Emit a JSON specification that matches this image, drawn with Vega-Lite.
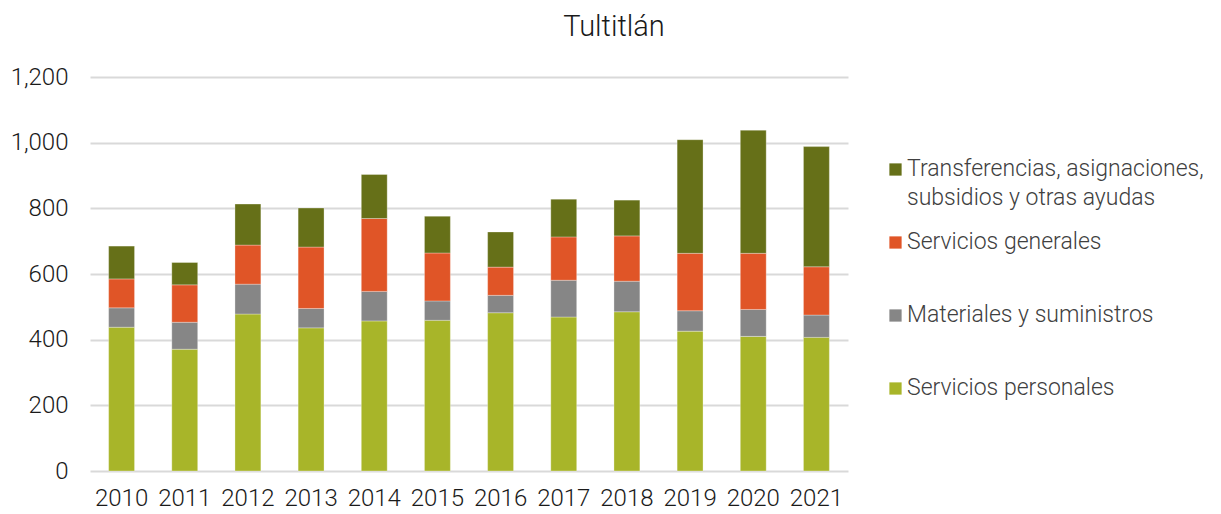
{
  "$schema": "https://vega.github.io/schema/vega-lite/v6.json",
  "width": 758,
  "height": 394,
  "autosize": {"type": "none"},
  "padding": {"left": 90, "top": 77, "right": 373, "bottom": 43},
  "background": "white",
  "title": {
    "text": "Tultitlán",
    "fontSize": 29,
    "font": "Roboto",
    "fontWeight": 300,
    "color": "#1a1a1a",
    "anchor": "middle",
    "dx": 145,
    "offset": 23
  },
  "data": {
    "values": [
      {"year": "2010", "cat": "Servicios personales", "o": 1, "v": 438},
      {"year": "2010", "cat": "Materiales y suministros", "o": 2, "v": 59},
      {"year": "2010", "cat": "Servicios generales", "o": 3, "v": 88},
      {"year": "2010", "cat": "Transferencias, asignaciones, subsidios y otras ayudas", "o": 4, "v": 100},
      {"year": "2011", "cat": "Servicios personales", "o": 1, "v": 371},
      {"year": "2011", "cat": "Materiales y suministros", "o": 2, "v": 82},
      {"year": "2011", "cat": "Servicios generales", "o": 3, "v": 114},
      {"year": "2011", "cat": "Transferencias, asignaciones, subsidios y otras ayudas", "o": 4, "v": 68},
      {"year": "2012", "cat": "Servicios personales", "o": 1, "v": 478},
      {"year": "2012", "cat": "Materiales y suministros", "o": 2, "v": 91},
      {"year": "2012", "cat": "Servicios generales", "o": 3, "v": 119},
      {"year": "2012", "cat": "Transferencias, asignaciones, subsidios y otras ayudas", "o": 4, "v": 125},
      {"year": "2013", "cat": "Servicios personales", "o": 1, "v": 436},
      {"year": "2013", "cat": "Materiales y suministros", "o": 2, "v": 59},
      {"year": "2013", "cat": "Servicios generales", "o": 3, "v": 187},
      {"year": "2013", "cat": "Transferencias, asignaciones, subsidios y otras ayudas", "o": 4, "v": 119},
      {"year": "2014", "cat": "Servicios personales", "o": 1, "v": 457},
      {"year": "2014", "cat": "Materiales y suministros", "o": 2, "v": 90},
      {"year": "2014", "cat": "Servicios generales", "o": 3, "v": 222},
      {"year": "2014", "cat": "Transferencias, asignaciones, subsidios y otras ayudas", "o": 4, "v": 134},
      {"year": "2015", "cat": "Servicios personales", "o": 1, "v": 459},
      {"year": "2015", "cat": "Materiales y suministros", "o": 2, "v": 59},
      {"year": "2015", "cat": "Servicios generales", "o": 3, "v": 146},
      {"year": "2015", "cat": "Transferencias, asignaciones, subsidios y otras ayudas", "o": 4, "v": 112},
      {"year": "2016", "cat": "Servicios personales", "o": 1, "v": 482},
      {"year": "2016", "cat": "Materiales y suministros", "o": 2, "v": 53},
      {"year": "2016", "cat": "Servicios generales", "o": 3, "v": 86},
      {"year": "2016", "cat": "Transferencias, asignaciones, subsidios y otras ayudas", "o": 4, "v": 107},
      {"year": "2017", "cat": "Servicios personales", "o": 1, "v": 469},
      {"year": "2017", "cat": "Materiales y suministros", "o": 2, "v": 112},
      {"year": "2017", "cat": "Servicios generales", "o": 3, "v": 132},
      {"year": "2017", "cat": "Transferencias, asignaciones, subsidios y otras ayudas", "o": 4, "v": 115},
      {"year": "2018", "cat": "Servicios personales", "o": 1, "v": 485},
      {"year": "2018", "cat": "Materiales y suministros", "o": 2, "v": 93},
      {"year": "2018", "cat": "Servicios generales", "o": 3, "v": 138},
      {"year": "2018", "cat": "Transferencias, asignaciones, subsidios y otras ayudas", "o": 4, "v": 109},
      {"year": "2019", "cat": "Servicios personales", "o": 1, "v": 426},
      {"year": "2019", "cat": "Materiales y suministros", "o": 2, "v": 62},
      {"year": "2019", "cat": "Servicios generales", "o": 3, "v": 175},
      {"year": "2019", "cat": "Transferencias, asignaciones, subsidios y otras ayudas", "o": 4, "v": 346},
      {"year": "2020", "cat": "Servicios personales", "o": 1, "v": 410},
      {"year": "2020", "cat": "Materiales y suministros", "o": 2, "v": 82},
      {"year": "2020", "cat": "Servicios generales", "o": 3, "v": 171},
      {"year": "2020", "cat": "Transferencias, asignaciones, subsidios y otras ayudas", "o": 4, "v": 375},
      {"year": "2021", "cat": "Servicios personales", "o": 1, "v": 407},
      {"year": "2021", "cat": "Materiales y suministros", "o": 2, "v": 68},
      {"year": "2021", "cat": "Servicios generales", "o": 3, "v": 147},
      {"year": "2021", "cat": "Transferencias, asignaciones, subsidios y otras ayudas", "o": 4, "v": 366}
    ]
  },
  "mark": {"type": "bar", "stroke": "white", "strokeWidth": 0.6, "strokeOpacity": 0.5},
  "encoding": {
    "x": {
      "field": "year",
      "type": "nominal",
      "title": null,
      "scale": {"paddingInner": 0.59, "paddingOuter": 0.295},
      "axis": {
        "labelAngle": 0,
        "labelFontSize": 24,
        "labelFont": "Roboto",
        "labelFontWeight": 300,
        "labelColor": "#1a1a1a",
        "labelPadding": 9,
        "ticks": false,
        "domain": false
      }
    },
    "y": {
      "field": "v",
      "type": "quantitative",
      "stack": "zero",
      "title": null,
      "scale": {"domain": [0, 1200], "nice": false},
      "axis": {
        "values": [0, 200, 400, 600, 800, 1000, 1200],
        "format": ",d",
        "labelFontSize": 24,
        "labelFont": "Roboto",
        "labelFontWeight": 300,
        "labelColor": "#1a1a1a",
        "labelPadding": 22,
        "labelOffset": -6,
        "ticks": false,
        "domain": false,
        "gridColor": "#d9d9d9",
        "gridWidth": 2
      }
    },
    "order": {"field": "o", "type": "quantitative", "sort": "ascending"},
    "color": {
      "field": "cat",
      "type": "nominal",
      "title": null,
      "scale": {
        "domain": ["Transferencias, asignaciones, subsidios y otras ayudas", "Servicios generales", "Materiales y suministros", "Servicios personales"],
        "range": ["#667018", "#E05527", "#868686", "#A8B529"]
      },
      "legend": {
        "orient": "none",
        "legendX": 794,
        "legendY": 81,
        "symbolType": "square",
        "symbolSize": 150,
        "symbolStrokeWidth": 0,
        "labelFontSize": 23,
        "labelFont": "Roboto",
        "labelFontWeight": 300,
        "labelColor": "#404040",
        "labelLimit": 400,
        "labelOffset": 0,
        "labelBaseline": "alphabetic",
        "gridAlign": "all",
        "rowPadding": 20,
        "labelExpr": "datum.label == 'Transferencias, asignaciones, subsidios y otras ayudas' ? ['Transferencias, asignaciones,', 'subsidios y otras ayudas'] : datum.label"
      }
    }
  },
  "config": {
    "view": {"stroke": null},
    "style": {"guide-label": {"lineHeight": 29, "dy": 6}}
  }
}
